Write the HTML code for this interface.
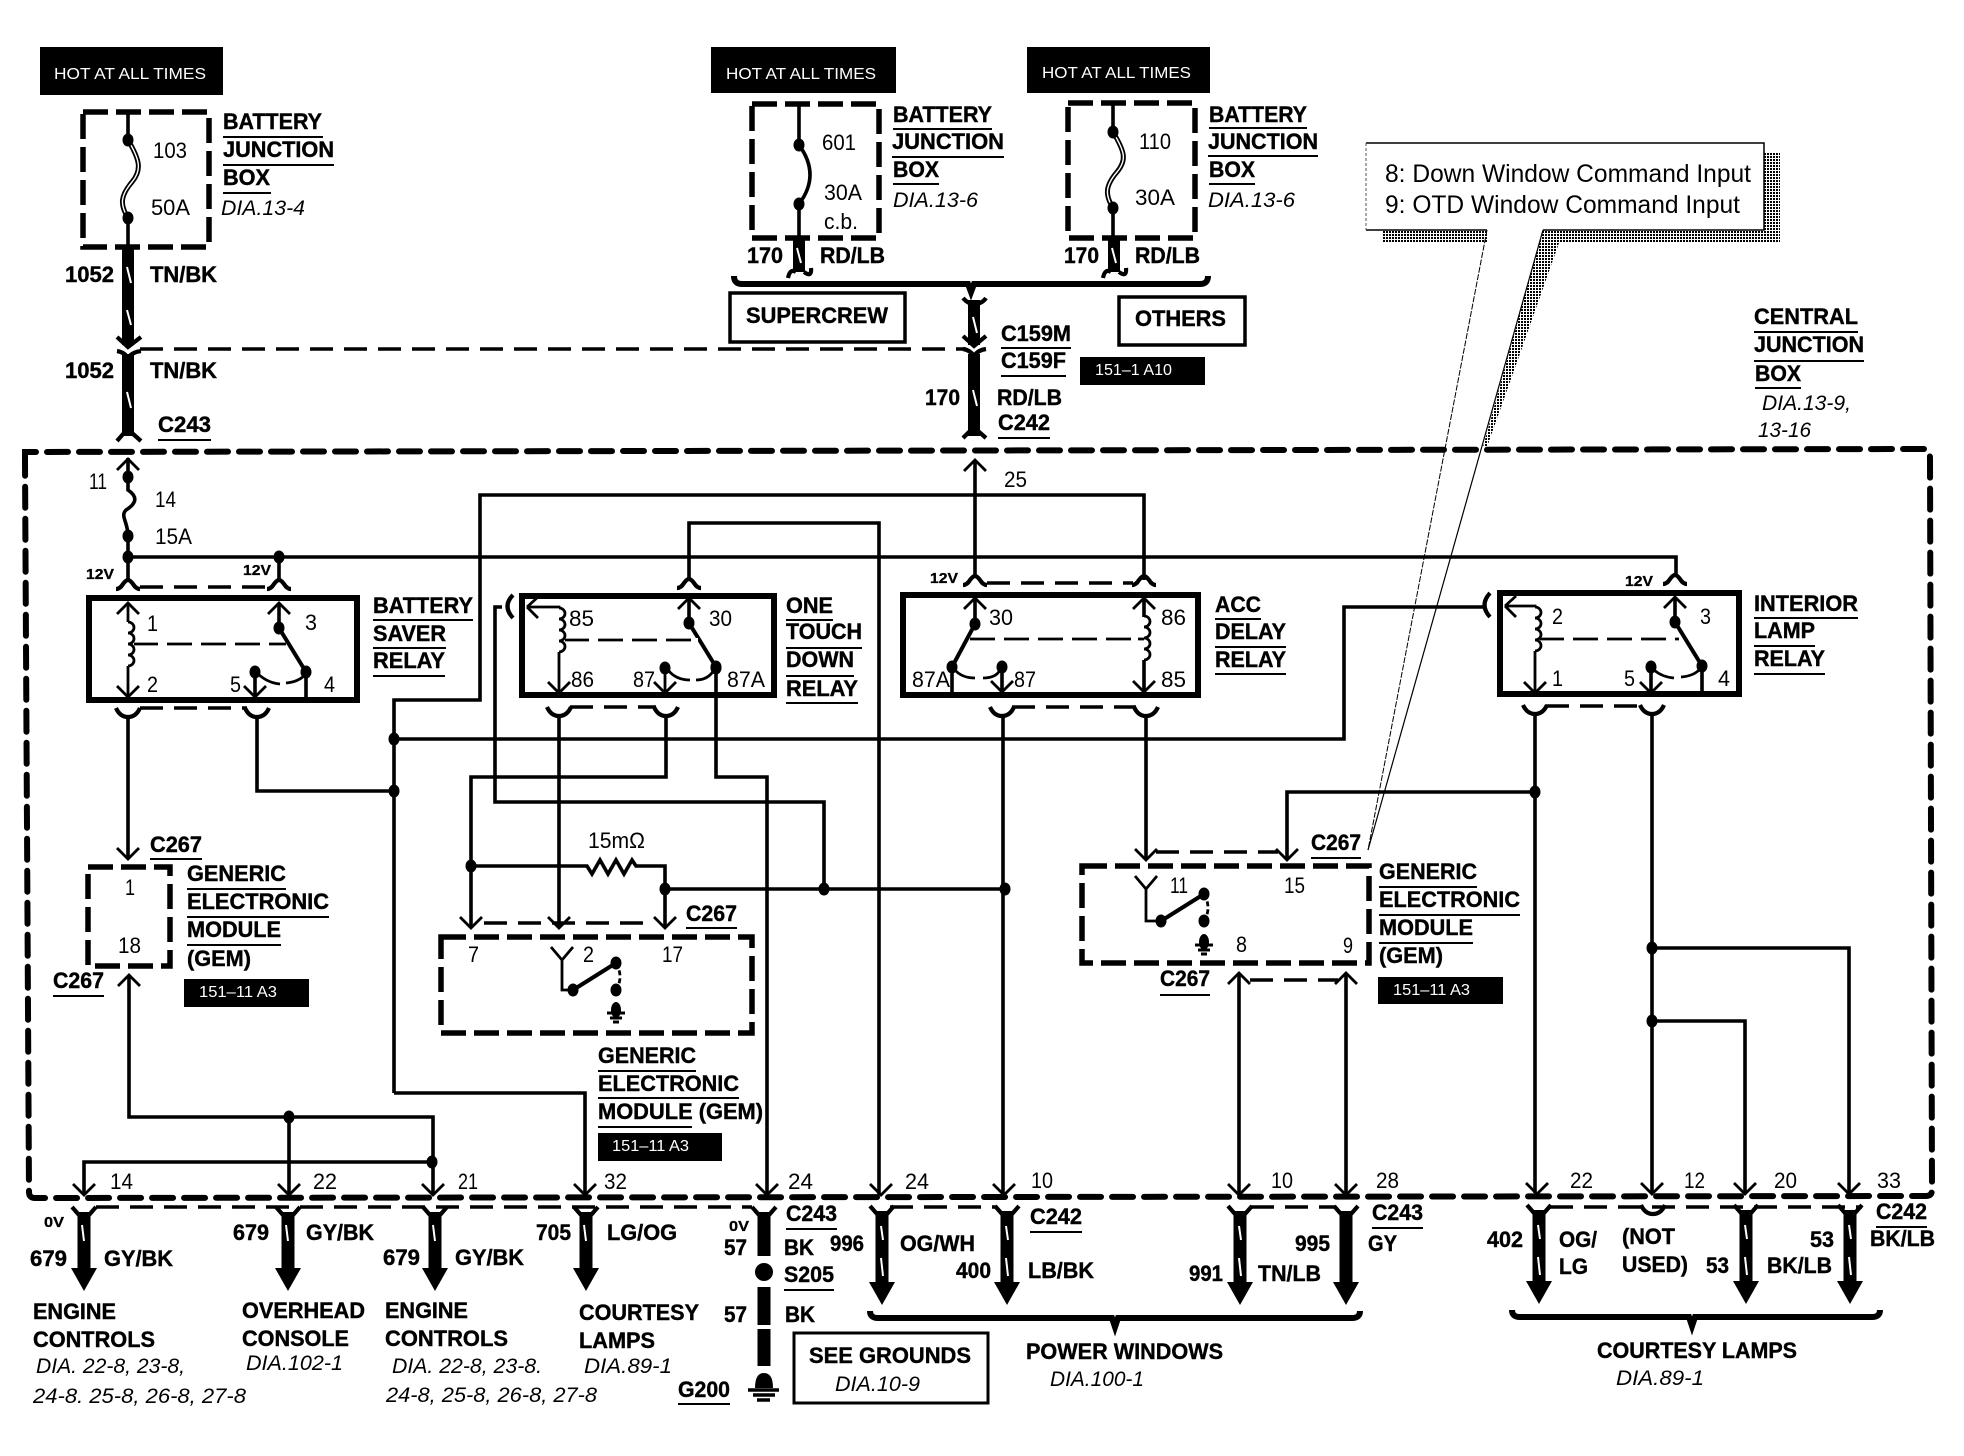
<!DOCTYPE html>
<html><head><meta charset="utf-8"><title>Wiring diagram</title>
<style>
html,body{margin:0;padding:0;background:#fff}
svg{display:block}
text{font-family:"Liberation Sans",sans-serif;fill:#000}
.b{font-size:22px;font-weight:bold;stroke:#000;stroke-width:.4}
.n{font-size:22px}
.i{font-size:21px;font-style:italic}
.s{font-size:15px;font-weight:bold;stroke:#000;stroke-width:.3}
.h{font-size:16px;fill:#fff}
.c{font-size:25px}
.w{fill:none;stroke:#000;stroke-width:3.6;stroke-linejoin:miter}
.t{fill:none;stroke:#000;stroke-width:2.8}
.u{fill:none;stroke:#000;stroke-width:2}
.d{fill:none;stroke:#000;stroke-width:6;stroke-dasharray:21 11;stroke-linecap:round}
.m{fill:none;stroke:#000;stroke-width:5.5;stroke-dasharray:25 8}
.q{fill:none;stroke:#000;stroke-width:3.4;stroke-dasharray:23 11}
.r{fill:none;stroke:#000;stroke-width:6}
.o{fill:none;stroke:#000;stroke-width:4.2}
.k{fill:none;stroke:#000;stroke-width:12}
.l{fill:none;stroke:#fff;stroke-width:2}
.br{fill:none;stroke:#000;stroke-width:6}
</style></head><body>
<svg xmlns="http://www.w3.org/2000/svg" width="1964" height="1456" viewBox="0 0 1964 1456">
<defs>
<pattern id="dt" width="3" height="3" patternUnits="userSpaceOnUse"><rect width="3" height="3" fill="#fff"/><rect width="2" height="2" fill="#000"/></pattern>
<path id="up" class="t" d="M-11,11L0,0L11,11"/>
<path id="dn" class="t" d="M-11,-11L0,0L11,-11"/>
<path id="cap" class="o" d="M-12,9Q-8,9-5,4Q-2,0 0,0Q2,0 5,4Q8,9 12,9"/>
<path id="cup" class="o" d="M-12,0Q-8,9 0,9Q8,9 12,0"/>
<path id="coil" class="t" d="M0,0a6,5.5 0 0 1 0,11a6,5.5 0 0 1 0,11a6,5.5 0 0 1 0,11a6,5.5 0 0 1 0,11"/>
<ellipse id="dot" rx="5.5" ry="6.5" fill="#000"/>
<g id="a1"><path class="o" d="M-12,0L-5,8H5L12,0"/><rect x="-6.5" y="5" width="13" height="58" fill="#000"/><path d="M-13,61H13L0,84Z" fill="#000"/><path class="l" d="M-2,18L0,34"/></g>
<g id="a3"><path class="o" d="M-12,0L-5,8H5L12,0"/><rect x="-6.5" y="5" width="13" height="73" fill="#000"/><path d="M-13,76H13L0,99Z" fill="#000"/></g>
<g id="a2"><use href="#a3"/><path class="l" d="M-1,20L1,34M-1,52L1,70"/></g>
<g id="gr"><ellipse cx="0" cy="0" rx="5" ry="8" fill="#000"/><path stroke="#000" stroke-width="3" d="M-9,3H9M-6,8H6M-3,12H3"/></g>
<g id="sw"><use href="#up"/><path class="w" d="M0,0V25"/><use href="#dot" y="25"/><path d="M0,25L27,69" stroke="#000" stroke-width="4"/><use href="#dot" x="27" y="69"/></g>
</defs>

<!-- shadows -->
<rect x="1764" y="152" width="16" height="91" fill="url(#dt)"/>
<rect x="1543" y="230" width="237" height="13" fill="url(#dt)"/>
<rect x="1382" y="230" width="105" height="13" fill="url(#dt)"/>
<path d="M1543,230L1559,243L1487,447H1483Z" fill="url(#dt)"/>

<!-- hot boxes -->
<rect x="40" y="47" width="183" height="48" fill="#000"/>
<rect x="711" y="47" width="185" height="46" fill="#000"/>
<rect x="1027" y="47" width="183" height="46" fill="#000"/>
<rect x="1080" y="357" width="125" height="28" fill="#000"/>
<rect x="184" y="979" width="125" height="28" fill="#000"/>
<rect x="1378" y="977" width="125" height="27" fill="#000"/>
<rect x="598" y="1133" width="124" height="28" fill="#000"/>

<!-- dashed boxes -->
<path class="d" d="M25,462V452L1925,449Q1930,449 1930,459L1932,1190Q1932,1196 1926,1196L35,1198Q29,1198 29,1192Z"/>
<path class="m" d="M83,112H209V247H83Z"/>
<path class="m" d="M752,104H879V238H752Z"/>
<path class="m" d="M1068,103H1195V238H1068Z"/>
<path class="m" d="M88,867H170V966H88Z"/>
<path class="m" d="M441,937H752V1033H441Z"/>
<path class="m" d="M1082,866H1369V963H1082Z"/>

<!-- connector dashes -->
<path class="q" d="M140,587H268M140,708H247M570,707H656M987,583H1133M1012,707H1136M1546,706H1642M484,923H652M1156,852H1278M1250,980H1338M140,349H966"/>
<path class="q" d="M96,1207H752M890,1207H997M1251,1207H1336M1550,1207H1862"/>

<!-- relay boxes -->
<rect x="89" y="598" width="268" height="102" class="r"/>
<rect x="522" y="596" width="252" height="99" class="r"/>
<rect x="903" y="595" width="295" height="100" class="r"/>
<rect x="1500" y="593" width="239" height="101" class="r"/>

<!-- main wires -->
<path class="w" d="M128,458V490C140,498 134,505 126,510C120,516 128,522 128,536V580M128,557H1676V577M279,557V581
M128,717V859M257,717V791H394M394,1093V700H480V495H1144V580M394,1093H585V1195M394,739H1344V607H1483M975,460V578
M689,580V523H879V1195M716,668V777H767V1195M559,715V928M666,715V777H471V928
M471,866H587L592,874L600,860L608,874L616,860L624,874L632,860L636,866H665V928M665,889H1005M824,889V802H495V607H502
M1003,716V1195M1146,716V860M1287,860V792H1535M1535,713V1193M1652,714V1193M1652,948H1849V1193M1652,1021H1745V1193
M1239,973V1195M1346,973V1195M129,975V1117H433V1195M289,1117V1195M84,1195V1162H432"/>

<!-- fuses in battery boxes -->
<path class="w" d="M128,112V140M128,218V247M799,104V145M799,204V238M1113,103V132M1113,208V238"/>
<path d="M128,140C140,160 142,170 132,182C120,196 120,205 128,218" fill="none" stroke="#000" stroke-width="5"/>
<path d="M128,140C140,160 142,170 132,182C120,196 120,205 128,218" fill="none" stroke="#fff" stroke-width="1.4"/>
<path d="M1113,132C1125,152 1127,160 1117,172C1105,186 1105,195 1113,208" fill="none" stroke="#000" stroke-width="5"/>
<path d="M1113,132C1125,152 1127,160 1117,172C1105,186 1105,195 1113,208" fill="none" stroke="#fff" stroke-width="1.4"/>
<path class="w" d="M799,145Q821,175 799,204"/>
<use href="#dot" x="128" y="140"/><use href="#dot" x="128" y="218"/>
<use href="#dot" x="799" y="145"/><use href="#dot" x="799" y="204"/>
<use href="#dot" x="1113" y="132"/><use href="#dot" x="1113" y="208"/>

<!-- dots -->
<use href="#dot" x="128" y="477"/><use href="#dot" x="128" y="536"/><use href="#dot" x="128" y="557"/><use href="#dot" x="279" y="557"/>
<use href="#dot" x="394" y="739"/><use href="#dot" x="394" y="791"/><use href="#dot" x="471" y="866"/><use href="#dot" x="665" y="889"/>
<use href="#dot" x="824" y="889"/><use href="#dot" x="1005" y="889"/><use href="#dot" x="1535" y="792"/><use href="#dot" x="1652" y="948"/>
<use href="#dot" x="1652" y="1021"/><use href="#dot" x="289" y="1117"/><use href="#dot" x="432" y="1162"/>

<!-- top thick wires -->
<path class="k" d="M128,247V345M128,354V436M799,238V272M1114,238V272M974,300V345M974,354V436"/>
<path class="o" d="M117,337L128,347L141,337M963,336L974,346L986,336M117,351Q124,352 128,358Q132,352 141,351M963,349Q970,350 974,356Q978,350 986,349M117,441L124,433H132L141,441M963,438L970,431H978L986,438M963,298Q968,304 974,304Q982,304 986,298M788,278Q790,268 796,272M804,272Q812,278 811,268M1103,278Q1105,268 1111,272M1119,272Q1127,278 1126,268"/>
<path class="l" d="M127,267L131,283M127,310L131,325M127,392L131,408M797,248L801,263M1112,248L1116,263M973,317L977,333M973,390L977,406"/>

<!-- braces -->
<path class="br" d="M734,276Q734,284 742,284H968L971,292L974,284H1200Q1208,284 1208,276"/>
<path class="br" d="M870,1311Q870,1318 878,1318H1112L1115,1327L1118,1318H1352Q1360,1318 1360,1311"/>
<path class="br" d="M1512,1310Q1512,1317 1520,1317H1689L1692,1326L1695,1317H1872Q1880,1317 1880,1310"/>

<!-- caps above relays -->
<use href="#cap" x="128" y="580"/><use href="#cap" x="279" y="580"/><use href="#cap" x="689" y="579"/>
<use href="#cap" x="975" y="576"/><use href="#cap" x="1144" y="576"/><use href="#cap" x="1675" y="575"/>
<!-- cups below relays -->
<use href="#cup" x="128" y="708"/><use href="#cup" x="257" y="708"/><use href="#cup" x="559" y="707"/><use href="#cup" x="666" y="707"/>
<use href="#cup" x="1002" y="707"/><use href="#cup" x="1146" y="707"/><use href="#cup" x="1535" y="705"/><use href="#cup" x="1652" y="705"/>
<path class="o" d="M513,595Q502,606 513,618M1490,593Q1479,605 1490,617"/>
<use href="#cup" x="1653" y="1205"/>

<!-- arrows -->
<use href="#up" x="128" y="459"/><use href="#up" x="975" y="460"/><use href="#up" x="129" y="975"/><use href="#up" x="1239" y="973"/><use href="#up" x="1346" y="973"/>
<use href="#dn" x="128" y="859"/><use href="#dn" x="471" y="928"/><use href="#dn" x="559" y="928"/><use href="#dn" x="665" y="928"/><use href="#dn" x="1146" y="860"/><use href="#dn" x="1287" y="860"/>
<use href="#dn" x="84" y="1195"/><use href="#dn" x="289" y="1195"/><use href="#dn" x="433" y="1195"/><use href="#dn" x="585" y="1195"/><use href="#dn" x="767" y="1195"/><use href="#dn" x="881" y="1195"/><use href="#dn" x="1004" y="1195"/><use href="#dn" x="1239" y="1195"/><use href="#dn" x="1346" y="1195"/><use href="#dn" x="1537" y="1194"/><use href="#dn" x="1652" y="1194"/><use href="#dn" x="1745" y="1194"/><use href="#dn" x="1849" y="1194"/>

<!-- relay 1 internals -->
<use href="#up" x="128" y="603"/><path class="t" d="M128,603V622M128,666V697M134,644H286" /><use href="#coil" x="128" y="622"/><use href="#dn" x="128" y="697"/>
<use href="#sw" x="279" y="603"/><path class="w" d="M306,672V697M255,672V697"/><use href="#dn" x="255" y="697"/><use href="#dot" x="255" y="672"/>
<path class="t" d="M258,674Q268,683 280,684M286,683Q298,682 305,675"/>
<path stroke="#fff" stroke-width="4" stroke-dasharray="9 25" stroke-dashoffset="-24" d="M134,644H286"/>
<!-- relay 2 internals -->
<path class="t" d="M527,607H559V608M559,652V693M565,640H698M527,607L538,597M527,607L538,618"/><use href="#coil" x="559" y="608"/><use href="#dn" x="559" y="693"/>
<use href="#sw" x="689" y="598"/><path class="t" d="M665,668V693"/><use href="#dn" x="665" y="693"/><use href="#dot" x="665" y="668"/>
<use href="#dot" x="716" y="668"/>
<path class="t" d="M668,670Q676,680 690,680M696,680Q708,680 714,670"/>
<path stroke="#fff" stroke-width="4" stroke-dasharray="9 25" stroke-dashoffset="-24" d="M565,640H698"/>
<!-- relay 3 internals -->
<use href="#up" x="975" y="598"/><path class="w" d="M975,598V624M952,667V695M1002,667V692M1144,598V617M1144,660V692"/><use href="#dot" x="975" y="624"/>
<path d="M975,624L952,667" stroke="#000" stroke-width="4"/><use href="#dot" x="952" y="667"/><use href="#dot" x="1002" y="667"/><use href="#dn" x="1002" y="692"/>
<path class="t" d="M955,670Q962,678 975,678M983,678Q996,678 1000,670"/>
<path class="t" d="M970,639H1144"/><use href="#up" x="1144" y="598"/><use href="#coil" x="1144" y="616" /><use href="#dn" x="1144" y="692"/>
<path stroke="#fff" stroke-width="4" stroke-dasharray="9 25" stroke-dashoffset="-20" d="M975,639H1138"/>
<!-- relay 4 internals -->
<path class="t" d="M1505,606H1535V607M1535,651V693M1540,639H1679M1505,606L1516,596M1505,606L1516,617"/><use href="#coil" x="1535" y="607"/><use href="#dn" x="1535" y="693"/>
<use href="#sw" x="1675" y="597"/><path class="w" d="M1702,666V694M1651,667V693"/><use href="#dn" x="1651" y="693"/><use href="#dot" x="1651" y="667"/>
<path class="t" d="M1654,670Q1662,677 1674,678M1681,677Q1694,676 1700,669"/>
<path stroke="#fff" stroke-width="4" stroke-dasharray="9 25" stroke-dashoffset="-24" d="M1540,639H1679"/>

<!-- GEM internals -->
<path class="t" d="M551,947L562,960L573,947M562,960V990H573M1135,876L1146,889L1157,876M1146,889V921H1161"/>
<path d="M573,990L616,963M1161,921L1204,894" stroke="#000" stroke-width="4"/>
<use href="#dot" x="573" y="990"/><use href="#dot" x="616" y="963"/><use href="#dot" x="1161" y="921"/><use href="#dot" x="1204" y="894"/>
<use href="#dot" x="616" y="990"/><use href="#dot" x="1204" y="921"/>
<path class="t" stroke-dasharray="5 3" d="M616,963Q624,977 616,990M1204,894Q1212,908 1204,921"/>
<use href="#gr" x="616" y="1010"/><use href="#gr" x="1204" y="942"/>

<!-- bottom arrows -->
<use href="#a1" x="84" y="1207"/><use href="#a1" x="288" y="1207"/><use href="#a1" x="435" y="1207"/><use href="#a1" x="586" y="1207"/>
<use href="#a2" x="882" y="1206"/><use href="#a2" x="1007" y="1206"/><use href="#a2" x="1240" y="1206"/><use href="#a3" x="1346" y="1206"/>
<use href="#a2" x="1539" y="1205"/><use href="#a2" x="1746" y="1205"/><use href="#a2" x="1850" y="1205"/>
<!-- S205 / G200 -->
<path class="o" d="M752,1207L759,1215H769L776,1207"/>
<rect x="757.5" y="1212" width="13" height="44" fill="#000"/>
<ellipse cx="764" cy="1272" rx="9" ry="9" fill="#000"/>
<rect x="757.5" y="1287" width="13" height="38" fill="#000"/><rect x="757.5" y="1329" width="13" height="37" fill="#000"/>
<path d="M755,1388Q755,1373 764,1373Q773,1373 773,1388Z" fill="#000"/>
<path stroke="#000" stroke-width="3.5" d="M748,1390H779M753,1395H775M757,1400H770"/>

<!-- plain boxes -->
<rect x="730" y="293" width="175" height="49" fill="none" stroke="#000" stroke-width="3.5"/>
<rect x="1119" y="297" width="126" height="48" fill="none" stroke="#000" stroke-width="3.5"/>
<rect x="794" y="1333" width="194" height="70" fill="none" stroke="#000" stroke-width="3"/>

<!-- callout -->
<rect x="1366" y="143" width="398" height="87" fill="#fff"/>
<path fill="none" stroke="#000" stroke-width="1.5" d="M1366,143H1764V230H1543M1487,230H1366"/>
<path fill="none" stroke="#000" stroke-width="1.2" d="M1543,230L1368,850"/>
<path fill="none" stroke="#000" stroke-width="1" stroke-dasharray="6 1.5" d="M1487,230L1368,850"/>
<path fill="none" stroke="#555" stroke-width="1" stroke-dasharray="3 2" d="M1366,143V230"/>

<!-- underlines -->
<path class="u" d="M223,137H323M223,165H334M223,193H271M158,440H211M893,129H992M892,157H1004M893,184H939M1209,128H1307M1208,156H1318M1209,184H1255
M1001,348H1071M1001,376H1066M998,438H1050M1754,332H1858M1754,361H1864M1755,388H1801
M373,620H473M373,648H446M373,676H445M786,620H833M786,648H862M786,676H854M786,703H858M1215,619H1261M1215,647H1286M1215,674H1286M1754,618H1858M1754,646H1815M1754,674H1825
M150,859H202M53,996H104M187,889H286M187,917H329M187,945H281M686,928H737M1311,858H1361M1379,887H1477M1379,915H1520M1379,943H1473M1160,995H1210
M598,1071H696M598,1098H739M598,1127H692M786,1229H837M784,1290H834M1030,1232H1082M1372,1228H1423M1876,1227H1927M678,1404H730"/>

<!-- text: white labels -->
<text class="h" x="54" y="79" textLength="152" lengthAdjust="spacingAndGlyphs">HOT AT ALL TIMES</text>
<text class="h" x="726" y="79" textLength="150" lengthAdjust="spacingAndGlyphs">HOT AT ALL TIMES</text>
<text class="h" x="1042" y="78" textLength="149" lengthAdjust="spacingAndGlyphs">HOT AT ALL TIMES</text>
<text class="h" x="1095" y="375" textLength="77" lengthAdjust="spacingAndGlyphs">151–1 A10</text>
<text class="h" x="199" y="997" textLength="78" lengthAdjust="spacingAndGlyphs">151–11 A3</text>
<text class="h" x="1393" y="995" textLength="77" lengthAdjust="spacingAndGlyphs">151–11 A3</text>
<text class="h" x="612" y="1151" textLength="77" lengthAdjust="spacingAndGlyphs">151–11 A3</text>

<!-- top left -->
<text class="b" x="223" y="129" textLength="99" lengthAdjust="spacingAndGlyphs">BATTERY</text>
<text class="b" x="223" y="157" textLength="111" lengthAdjust="spacingAndGlyphs">JUNCTION</text>
<text class="b" x="223" y="185" textLength="47" lengthAdjust="spacingAndGlyphs">BOX</text>
<text class="i" x="221" y="215" textLength="84" lengthAdjust="spacingAndGlyphs">DIA.13-4</text>
<text class="n" x="153" y="158" textLength="34" lengthAdjust="spacingAndGlyphs">103</text>
<text class="n" x="151" y="215" textLength="39" lengthAdjust="spacingAndGlyphs">50A</text>
<text class="b" x="65" y="282" textLength="49" lengthAdjust="spacingAndGlyphs">1052</text>
<text class="b" x="150" y="282" textLength="67" lengthAdjust="spacingAndGlyphs">TN/BK</text>
<text class="b" x="65" y="378" textLength="49" lengthAdjust="spacingAndGlyphs">1052</text>
<text class="b" x="150" y="378" textLength="67" lengthAdjust="spacingAndGlyphs">TN/BK</text>
<text class="b" x="158" y="432" textLength="53" lengthAdjust="spacingAndGlyphs">C243</text>

<!-- top middle -->
<text class="n" x="822" y="150" textLength="34" lengthAdjust="spacingAndGlyphs">601</text>
<text class="n" x="824" y="200" textLength="38" lengthAdjust="spacingAndGlyphs">30A</text>
<text class="n" x="824" y="229" textLength="34" lengthAdjust="spacingAndGlyphs">c.b.</text>
<text class="b" x="893" y="122" textLength="99" lengthAdjust="spacingAndGlyphs">BATTERY</text>
<text class="b" x="892" y="149" textLength="112" lengthAdjust="spacingAndGlyphs">JUNCTION</text>
<text class="b" x="893" y="177" textLength="46" lengthAdjust="spacingAndGlyphs">BOX</text>
<text class="i" x="893" y="207" textLength="85" lengthAdjust="spacingAndGlyphs">DIA.13-6</text>
<text class="b" x="747" y="263" textLength="36" lengthAdjust="spacingAndGlyphs">170</text>
<text class="b" x="820" y="263" textLength="65" lengthAdjust="spacingAndGlyphs">RD/LB</text>
<text class="n" x="1139" y="149" textLength="32" lengthAdjust="spacingAndGlyphs">110</text>
<text class="n" x="1135" y="205" textLength="40" lengthAdjust="spacingAndGlyphs">30A</text>
<text class="b" x="1209" y="122" textLength="98" lengthAdjust="spacingAndGlyphs">BATTERY</text>
<text class="b" x="1208" y="149" textLength="110" lengthAdjust="spacingAndGlyphs">JUNCTION</text>
<text class="b" x="1209" y="177" textLength="46" lengthAdjust="spacingAndGlyphs">BOX</text>
<text class="i" x="1208" y="207" textLength="87" lengthAdjust="spacingAndGlyphs">DIA.13-6</text>
<text class="b" x="1064" y="263" textLength="35" lengthAdjust="spacingAndGlyphs">170</text>
<text class="b" x="1135" y="263" textLength="65" lengthAdjust="spacingAndGlyphs">RD/LB</text>
<text class="b" x="746" y="323" textLength="142" lengthAdjust="spacingAndGlyphs">SUPERCREW</text>
<text class="b" x="1135" y="326" textLength="91" lengthAdjust="spacingAndGlyphs">OTHERS</text>
<text class="b" x="1001" y="341" textLength="70" lengthAdjust="spacingAndGlyphs">C159M</text>
<text class="b" x="1001" y="368" textLength="65" lengthAdjust="spacingAndGlyphs">C159F</text>
<text class="b" x="925" y="405" textLength="35" lengthAdjust="spacingAndGlyphs">170</text>
<text class="b" x="997" y="405" textLength="65" lengthAdjust="spacingAndGlyphs">RD/LB</text>
<text class="b" x="998" y="430" textLength="52" lengthAdjust="spacingAndGlyphs">C242</text>
<text class="n" x="1004" y="487" textLength="23" lengthAdjust="spacingAndGlyphs">25</text>

<!-- callout text -->
<text class="c" x="1385" y="182" textLength="366" lengthAdjust="spacingAndGlyphs">8: Down Window Command Input</text>
<text class="c" x="1385" y="213" textLength="355" lengthAdjust="spacingAndGlyphs">9: OTD Window Command Input</text>
<text class="b" x="1754" y="324" textLength="104" lengthAdjust="spacingAndGlyphs">CENTRAL</text>
<text class="b" x="1754" y="352" textLength="110" lengthAdjust="spacingAndGlyphs">JUNCTION</text>
<text class="b" x="1755" y="381" textLength="46" lengthAdjust="spacingAndGlyphs">BOX</text>
<text class="i" x="1762" y="410" textLength="89" lengthAdjust="spacingAndGlyphs">DIA.13-9,</text>
<text class="i" x="1758" y="437" textLength="53" lengthAdjust="spacingAndGlyphs">13-16</text>

<!-- fuse labels -->
<text class="n" x="89" y="489" textLength="18" lengthAdjust="spacingAndGlyphs">11</text>
<text class="n" x="155" y="507" textLength="21" lengthAdjust="spacingAndGlyphs">14</text>
<text class="n" x="155" y="544" textLength="37" lengthAdjust="spacingAndGlyphs">15A</text>
<text class="s" x="86" y="579" textLength="28" lengthAdjust="spacingAndGlyphs">12V</text>
<text class="s" x="243" y="575" textLength="28" lengthAdjust="spacingAndGlyphs">12V</text>
<text class="s" x="930" y="583" textLength="28" lengthAdjust="spacingAndGlyphs">12V</text>
<text class="s" x="1625" y="586" textLength="28" lengthAdjust="spacingAndGlyphs">12V</text>

<!-- relay 1 labels -->
<text class="n" x="147" y="631" textLength="11" lengthAdjust="spacingAndGlyphs">1</text>
<text class="n" x="147" y="692" textLength="11" lengthAdjust="spacingAndGlyphs">2</text>
<text class="n" x="305" y="630" textLength="12" lengthAdjust="spacingAndGlyphs">3</text>
<text class="n" x="230" y="692" textLength="11" lengthAdjust="spacingAndGlyphs">5</text>
<text class="n" x="324" y="692" textLength="11" lengthAdjust="spacingAndGlyphs">4</text>
<text class="b" x="373" y="613" textLength="100" lengthAdjust="spacingAndGlyphs">BATTERY</text>
<text class="b" x="373" y="641" textLength="73" lengthAdjust="spacingAndGlyphs">SAVER</text>
<text class="b" x="373" y="668" textLength="72" lengthAdjust="spacingAndGlyphs">RELAY</text>
<!-- relay 2 labels -->
<text class="n" x="569" y="626" textLength="25" lengthAdjust="spacingAndGlyphs">85</text>
<text class="n" x="571" y="687" textLength="23" lengthAdjust="spacingAndGlyphs">86</text>
<text class="n" x="633" y="687" textLength="22" lengthAdjust="spacingAndGlyphs">87</text>
<text class="n" x="709" y="626" textLength="23" lengthAdjust="spacingAndGlyphs">30</text>
<text class="n" x="727" y="687" textLength="38" lengthAdjust="spacingAndGlyphs">87A</text>
<text class="b" x="786" y="613" textLength="47" lengthAdjust="spacingAndGlyphs">ONE</text>
<text class="b" x="786" y="639" textLength="76" lengthAdjust="spacingAndGlyphs">TOUCH</text>
<text class="b" x="786" y="667" textLength="68" lengthAdjust="spacingAndGlyphs">DOWN</text>
<text class="b" x="786" y="696" textLength="72" lengthAdjust="spacingAndGlyphs">RELAY</text>
<!-- relay 3 labels -->
<text class="n" x="989" y="625" textLength="24" lengthAdjust="spacingAndGlyphs">30</text>
<text class="n" x="1161" y="625" textLength="25" lengthAdjust="spacingAndGlyphs">86</text>
<text class="n" x="912" y="687" textLength="38" lengthAdjust="spacingAndGlyphs">87A</text>
<text class="n" x="1014" y="687" textLength="22" lengthAdjust="spacingAndGlyphs">87</text>
<text class="n" x="1161" y="687" textLength="25" lengthAdjust="spacingAndGlyphs">85</text>
<text class="b" x="1215" y="612" textLength="46" lengthAdjust="spacingAndGlyphs">ACC</text>
<text class="b" x="1215" y="639" textLength="71" lengthAdjust="spacingAndGlyphs">DELAY</text>
<text class="b" x="1215" y="667" textLength="71" lengthAdjust="spacingAndGlyphs">RELAY</text>
<!-- relay 4 labels -->
<text class="n" x="1552" y="624" textLength="11" lengthAdjust="spacingAndGlyphs">2</text>
<text class="n" x="1700" y="624" textLength="11" lengthAdjust="spacingAndGlyphs">3</text>
<text class="n" x="1552" y="686" textLength="11" lengthAdjust="spacingAndGlyphs">1</text>
<text class="n" x="1624" y="686" textLength="11" lengthAdjust="spacingAndGlyphs">5</text>
<text class="n" x="1718" y="686" textLength="12" lengthAdjust="spacingAndGlyphs">4</text>
<text class="b" x="1754" y="611" textLength="104" lengthAdjust="spacingAndGlyphs">INTERIOR</text>
<text class="b" x="1754" y="638" textLength="61" lengthAdjust="spacingAndGlyphs">LAMP</text>
<text class="b" x="1754" y="666" textLength="71" lengthAdjust="spacingAndGlyphs">RELAY</text>

<!-- GEM left -->
<text class="b" x="150" y="852" textLength="52" lengthAdjust="spacingAndGlyphs">C267</text>
<text class="n" x="125" y="895" textLength="10" lengthAdjust="spacingAndGlyphs">1</text>
<text class="n" x="118" y="953" textLength="23" lengthAdjust="spacingAndGlyphs">18</text>
<text class="b" x="53" y="988" textLength="51" lengthAdjust="spacingAndGlyphs">C267</text>
<text class="b" x="187" y="881" textLength="99" lengthAdjust="spacingAndGlyphs">GENERIC</text>
<text class="b" x="187" y="909" textLength="142" lengthAdjust="spacingAndGlyphs">ELECTRONIC</text>
<text class="b" x="187" y="937" textLength="94" lengthAdjust="spacingAndGlyphs">MODULE</text>
<text class="b" x="187" y="966" textLength="64" lengthAdjust="spacingAndGlyphs">(GEM)</text>

<!-- GEM middle -->
<text class="n" x="588" y="848" textLength="57" lengthAdjust="spacingAndGlyphs">15mΩ</text>
<text class="b" x="686" y="921" textLength="51" lengthAdjust="spacingAndGlyphs">C267</text>
<text class="n" x="468" y="962" textLength="11" lengthAdjust="spacingAndGlyphs">7</text>
<text class="n" x="583" y="962" textLength="11" lengthAdjust="spacingAndGlyphs">2</text>
<text class="n" x="662" y="962" textLength="21" lengthAdjust="spacingAndGlyphs">17</text>
<text class="b" x="598" y="1063" textLength="98" lengthAdjust="spacingAndGlyphs">GENERIC</text>
<text class="b" x="598" y="1091" textLength="141" lengthAdjust="spacingAndGlyphs">ELECTRONIC</text>
<text class="b" x="598" y="1119" textLength="165" lengthAdjust="spacingAndGlyphs">MODULE (GEM)</text>

<!-- GEM right -->
<text class="b" x="1311" y="850" textLength="50" lengthAdjust="spacingAndGlyphs">C267</text>
<text class="n" x="1170" y="893" textLength="18" lengthAdjust="spacingAndGlyphs">11</text>
<text class="n" x="1284" y="893" textLength="21" lengthAdjust="spacingAndGlyphs">15</text>
<text class="n" x="1236" y="952" textLength="11" lengthAdjust="spacingAndGlyphs">8</text>
<text class="n" x="1343" y="953" textLength="10" lengthAdjust="spacingAndGlyphs">9</text>
<text class="b" x="1160" y="986" textLength="50" lengthAdjust="spacingAndGlyphs">C267</text>
<text class="b" x="1379" y="879" textLength="98" lengthAdjust="spacingAndGlyphs">GENERIC</text>
<text class="b" x="1379" y="907" textLength="141" lengthAdjust="spacingAndGlyphs">ELECTRONIC</text>
<text class="b" x="1379" y="935" textLength="94" lengthAdjust="spacingAndGlyphs">MODULE</text>
<text class="b" x="1379" y="963" textLength="64" lengthAdjust="spacingAndGlyphs">(GEM)</text>

<!-- pin numbers bottom -->
<text class="n" x="110" y="1189" textLength="23" lengthAdjust="spacingAndGlyphs">14</text>
<text class="n" x="313" y="1189" textLength="24" lengthAdjust="spacingAndGlyphs">22</text>
<text class="n" x="458" y="1189" textLength="20" lengthAdjust="spacingAndGlyphs">21</text>
<text class="n" x="604" y="1189" textLength="23" lengthAdjust="spacingAndGlyphs">32</text>
<text class="n" x="788" y="1189" textLength="25" lengthAdjust="spacingAndGlyphs">24</text>
<text class="n" x="905" y="1189" textLength="24" lengthAdjust="spacingAndGlyphs">24</text>
<text class="n" x="1031" y="1188" textLength="22" lengthAdjust="spacingAndGlyphs">10</text>
<text class="n" x="1271" y="1188" textLength="22" lengthAdjust="spacingAndGlyphs">10</text>
<text class="n" x="1376" y="1188" textLength="23" lengthAdjust="spacingAndGlyphs">28</text>
<text class="n" x="1570" y="1188" textLength="23" lengthAdjust="spacingAndGlyphs">22</text>
<text class="n" x="1684" y="1188" textLength="21" lengthAdjust="spacingAndGlyphs">12</text>
<text class="n" x="1774" y="1188" textLength="23" lengthAdjust="spacingAndGlyphs">20</text>
<text class="n" x="1877" y="1188" textLength="24" lengthAdjust="spacingAndGlyphs">33</text>

<!-- bottom left labels -->
<text class="s" x="44" y="1227" textLength="20" lengthAdjust="spacingAndGlyphs">0V</text>
<text class="b" x="30" y="1266" textLength="37" lengthAdjust="spacingAndGlyphs">679</text>
<text class="b" x="104" y="1266" textLength="69" lengthAdjust="spacingAndGlyphs">GY/BK</text>
<text class="b" x="233" y="1240" textLength="36" lengthAdjust="spacingAndGlyphs">679</text>
<text class="b" x="306" y="1240" textLength="68" lengthAdjust="spacingAndGlyphs">GY/BK</text>
<text class="b" x="383" y="1265" textLength="37" lengthAdjust="spacingAndGlyphs">679</text>
<text class="b" x="455" y="1265" textLength="69" lengthAdjust="spacingAndGlyphs">GY/BK</text>
<text class="b" x="536" y="1240" textLength="35" lengthAdjust="spacingAndGlyphs">705</text>
<text class="b" x="607" y="1240" textLength="70" lengthAdjust="spacingAndGlyphs">LG/OG</text>

<text class="b" x="33" y="1319" textLength="83" lengthAdjust="spacingAndGlyphs">ENGINE</text>
<text class="b" x="33" y="1347" textLength="122" lengthAdjust="spacingAndGlyphs">CONTROLS</text>
<text class="i" x="36" y="1373" textLength="149" lengthAdjust="spacingAndGlyphs">DIA. 22-8, 23-8,</text>
<text class="i" x="33" y="1403" textLength="213" lengthAdjust="spacingAndGlyphs">24-8. 25-8, 26-8, 27-8</text>
<text class="b" x="242" y="1318" textLength="123" lengthAdjust="spacingAndGlyphs">OVERHEAD</text>
<text class="b" x="242" y="1346" textLength="107" lengthAdjust="spacingAndGlyphs">CONSOLE</text>
<text class="i" x="246" y="1370" textLength="97" lengthAdjust="spacingAndGlyphs">DIA.102-1</text>
<text class="b" x="385" y="1318" textLength="83" lengthAdjust="spacingAndGlyphs">ENGINE</text>
<text class="b" x="385" y="1346" textLength="123" lengthAdjust="spacingAndGlyphs">CONTROLS</text>
<text class="i" x="392" y="1373" textLength="150" lengthAdjust="spacingAndGlyphs">DIA. 22-8, 23-8.</text>
<text class="i" x="386" y="1402" textLength="211" lengthAdjust="spacingAndGlyphs">24-8, 25-8, 26-8, 27-8</text>
<text class="b" x="579" y="1320" textLength="120" lengthAdjust="spacingAndGlyphs">COURTESY</text>
<text class="b" x="579" y="1348" textLength="76" lengthAdjust="spacingAndGlyphs">LAMPS</text>
<text class="i" x="584" y="1373" textLength="88" lengthAdjust="spacingAndGlyphs">DIA.89-1</text>

<!-- bottom middle -->
<text class="b" x="786" y="1221" textLength="51" lengthAdjust="spacingAndGlyphs">C243</text>
<text class="s" x="729" y="1231" textLength="20" lengthAdjust="spacingAndGlyphs">0V</text>
<text class="b" x="724" y="1255" textLength="23" lengthAdjust="spacingAndGlyphs">57</text>
<text class="b" x="784" y="1255" textLength="30" lengthAdjust="spacingAndGlyphs">BK</text>
<text class="b" x="830" y="1251" textLength="34" lengthAdjust="spacingAndGlyphs">996</text>
<text class="b" x="900" y="1251" textLength="75" lengthAdjust="spacingAndGlyphs">OG/WH</text>
<text class="b" x="784" y="1282" textLength="50" lengthAdjust="spacingAndGlyphs">S205</text>
<text class="b" x="724" y="1322" textLength="23" lengthAdjust="spacingAndGlyphs">57</text>
<text class="b" x="785" y="1322" textLength="30" lengthAdjust="spacingAndGlyphs">BK</text>
<text class="b" x="956" y="1278" textLength="35" lengthAdjust="spacingAndGlyphs">400</text>
<text class="b" x="1028" y="1278" textLength="66" lengthAdjust="spacingAndGlyphs">LB/BK</text>
<text class="b" x="1030" y="1224" textLength="52" lengthAdjust="spacingAndGlyphs">C242</text>
<text class="b" x="1189" y="1281" textLength="34" lengthAdjust="spacingAndGlyphs">991</text>
<text class="b" x="1258" y="1281" textLength="63" lengthAdjust="spacingAndGlyphs">TN/LB</text>
<text class="b" x="1295" y="1251" textLength="35" lengthAdjust="spacingAndGlyphs">995</text>
<text class="b" x="1372" y="1220" textLength="51" lengthAdjust="spacingAndGlyphs">C243</text>
<text class="b" x="1368" y="1251" textLength="29" lengthAdjust="spacingAndGlyphs">GY</text>
<text class="b" x="809" y="1363" textLength="162" lengthAdjust="spacingAndGlyphs">SEE GROUNDS</text>
<text class="i" x="835" y="1391" textLength="85" lengthAdjust="spacingAndGlyphs">DIA.10-9</text>
<text class="b" x="678" y="1397" textLength="52" lengthAdjust="spacingAndGlyphs">G200</text>
<text class="b" x="1026" y="1359" textLength="197" lengthAdjust="spacingAndGlyphs">POWER WINDOWS</text>
<text class="i" x="1050" y="1386" textLength="94" lengthAdjust="spacingAndGlyphs">DIA.100-1</text>

<!-- bottom right -->
<text class="b" x="1487" y="1247" textLength="36" lengthAdjust="spacingAndGlyphs">402</text>
<text class="b" x="1559" y="1247" textLength="38" lengthAdjust="spacingAndGlyphs">OG/</text>
<text class="b" x="1559" y="1274" textLength="29" lengthAdjust="spacingAndGlyphs">LG</text>
<text class="b" x="1622" y="1244" textLength="53" lengthAdjust="spacingAndGlyphs">(NOT</text>
<text class="b" x="1622" y="1272" textLength="66" lengthAdjust="spacingAndGlyphs">USED)</text>
<text class="b" x="1706" y="1273" textLength="23" lengthAdjust="spacingAndGlyphs">53</text>
<text class="b" x="1767" y="1273" textLength="65" lengthAdjust="spacingAndGlyphs">BK/LB</text>
<text class="b" x="1810" y="1247" textLength="24" lengthAdjust="spacingAndGlyphs">53</text>
<text class="b" x="1876" y="1219" textLength="51" lengthAdjust="spacingAndGlyphs">C242</text>
<text class="b" x="1870" y="1246" textLength="65" lengthAdjust="spacingAndGlyphs">BK/LB</text>
<text class="b" x="1597" y="1358" textLength="200" lengthAdjust="spacingAndGlyphs">COURTESY LAMPS</text>
<text class="i" x="1616" y="1385" textLength="88" lengthAdjust="spacingAndGlyphs">DIA.89-1</text>
</svg>
</body></html>
